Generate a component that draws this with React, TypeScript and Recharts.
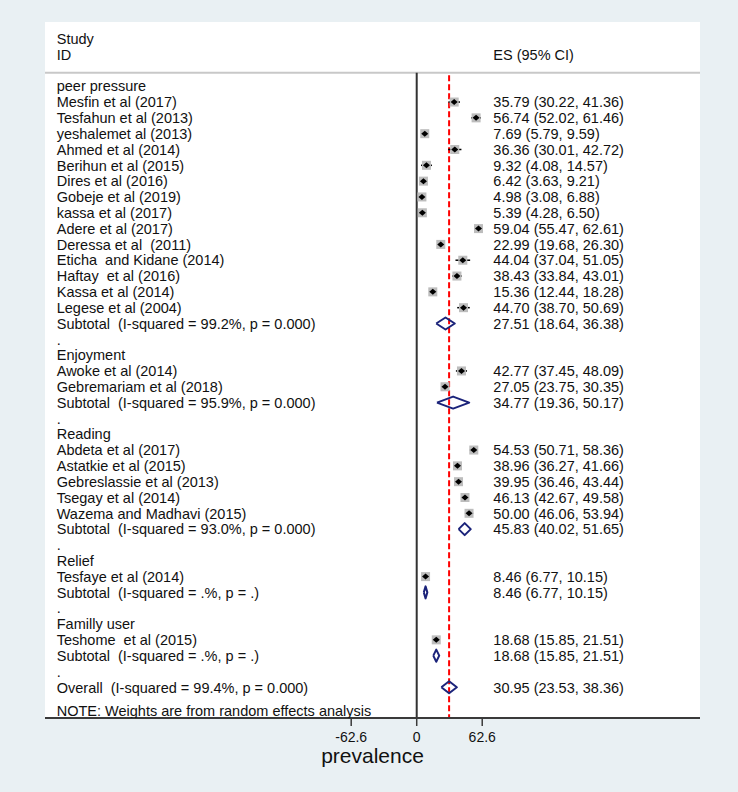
import { ScatterChart, Scatter, XAxis, YAxis, ReferenceLine, ErrorBar } from "recharts";

// [label, ES, lower CI, upper CI]
type Study = [string, number, number, number];

const peerPressure: Study[] = [
  ["Mesfin et al (2017)", 35.79, 30.22, 41.36],
  ["Tesfahun et al (2013)", 56.74, 52.02, 61.46],
  ["yeshalemet al (2013)", 7.69, 5.79, 9.59],
  ["Ahmed et al (2014)", 36.36, 30.01, 42.72],
  ["Berihun et al (2015)", 9.32, 4.08, 14.57],
  ["Dires et al (2016)", 6.42, 3.63, 9.21],
  ["Gobeje et al (2019)", 4.98, 3.08, 6.88],
  ["kassa et al (2017)", 5.39, 4.28, 6.5],
  ["Adere et al (2017)", 59.04, 55.47, 62.61],
  ["Deressa et al  (2011)", 22.99, 19.68, 26.3],
  ["Eticha  and Kidane (2014)", 44.04, 37.04, 51.05],
  ["Haftay  et al (2016)", 38.43, 33.84, 43.01],
  ["Kassa et al (2014)", 15.36, 12.44, 18.28],
  ["Legese et al (2004)", 44.7, 38.7, 50.69],
];

const enjoyment: Study[] = [
  ["Awoke et al (2014)", 42.77, 37.45, 48.09],
  ["Gebremariam et al (2018)", 27.05, 23.75, 30.35],
];

const reading: Study[] = [
  ["Abdeta et al (2017)", 54.53, 50.71, 58.36],
  ["Astatkie et al (2015)", 38.96, 36.27, 41.66],
  ["Gebreslassie et al (2013)", 39.95, 36.46, 43.44],
  ["Tsegay et al (2014)", 46.13, 42.67, 49.58],
  ["Wazema and Madhavi (2015)", 50.0, 46.06, 53.94],
];

const relief: Study[] = [["Tesfaye et al (2014)", 8.46, 6.77, 10.15]];

const famillyUser: Study[] = [["Teshome  et al (2015)", 18.68, 15.85, 21.51]];

const groupNames = ["peer pressure", "Enjoyment", "Reading", "Relief", "Familly user"];
const groupStudies = [peerPressure, enjoyment, reading, relief, famillyUser];

const subtotals: Study[] = [
  ["Subtotal  (I-squared = 99.2%, p = 0.000)", 27.51, 18.64, 36.38],
  ["Subtotal  (I-squared = 95.9%, p = 0.000)", 34.77, 19.36, 50.17],
  ["Subtotal  (I-squared = 93.0%, p = 0.000)", 45.83, 40.02, 51.65],
  ["Subtotal  (I-squared = .%, p = .)", 8.46, 6.77, 10.15],
  ["Subtotal  (I-squared = .%, p = .)", 18.68, 15.85, 21.51],
];

const overall: Study = ["Overall  (I-squared = 99.4%, p = 0.000)", 30.95, 23.53, 38.36];

const headerLeft = ["Study", "ID"];
const headerRight = "ES (95% CI)";
const note = "NOTE: Weights are from random effects analysis";
const xTicks = [-62.6, 0, 62.6];
const axisTitle = "prevalence";

// layout (data units)
const X_DOMAIN: [number, number] = [-355.2, 270.7];
const Y_DOMAIN: [number, number] = [-4.06, 39.94];
const LABEL_X = -344;
const ES_X = 73.2;
const HEADER_Y = -0.85;
const DIAMOND_H = 0.38;

const FONT = '"Liberation Sans", Arial, sans-serif';
const NAVY = "#1b237a";

type TextRow = { x: number; y: number; text: string };
type Point = { x: number; y: number; err: [number, number] };

const fmt = (es: number, lo: number, hi: number) =>
  `${es.toFixed(2)} (${lo.toFixed(2)}, ${hi.toFixed(2)})`;

const labelRows: TextRow[] = [
  { x: LABEL_X, y: -3, text: headerLeft[0] },
  { x: LABEL_X, y: -2, text: headerLeft[1] },
];
const esRows: TextRow[] = [{ x: ES_X, y: -2, text: headerRight }];
const studyPoints: Point[] = [];
const diamonds: { x: number; y: number }[][] = [];

const addDiamond = (es: number, lo: number, hi: number, y: number) => {
  diamonds.push([
    { x: lo, y },
    { x: es, y: y - DIAMOND_H },
    { x: hi, y },
    { x: es, y: y + DIAMOND_H },
    { x: lo, y },
  ]);
};

let row = 0;
groupNames.forEach((name, gi) => {
  labelRows.push({ x: LABEL_X, y: row++, text: name });
  groupStudies[gi].forEach(([label, es, lo, hi]) => {
    labelRows.push({ x: LABEL_X, y: row, text: label });
    esRows.push({ x: ES_X, y: row, text: fmt(es, lo, hi) });
    studyPoints.push({ x: es, y: row, err: [es - lo, hi - es] });
    row++;
  });
  const [sLabel, ses, slo, shi] = subtotals[gi];
  labelRows.push({ x: LABEL_X, y: row, text: sLabel });
  esRows.push({ x: ES_X, y: row, text: fmt(ses, slo, shi) });
  addDiamond(ses, slo, shi, row);
  row++;
  labelRows.push({ x: LABEL_X, y: row++, text: "." });
});
labelRows.push({ x: LABEL_X, y: row, text: overall[0] });
esRows.push({ x: ES_X, y: row, text: fmt(overall[1], overall[2], overall[3]) });
addDiamond(overall[1], overall[2], overall[3], row);
labelRows.push({ x: LABEL_X, y: row + 1.5, text: note });

const TextShape = (p: any) => (
  <text
    x={p.cx}
    y={p.cy}
    dy="0.36em"
    fontSize={14.5}
    fontFamily={FONT}
    fill="#111"
    style={{ whiteSpace: "pre" }}
  >
    {p.payload.text}
  </text>
);

const BoxShape = (p: any) => (
  <rect x={p.cx - 4.5} y={p.cy - 4.5} width={9} height={9} fill="#bdbdbd" />
);

const PointShape = (p: any) => (
  <polygon
    points={`${p.cx - 3.5},${p.cy} ${p.cx},${p.cy - 3} ${p.cx + 3.5},${p.cy} ${p.cx},${p.cy + 3}`}
    fill="#000"
  />
);

const NoShape = () => <g />;

export default function App() {
  return (
    <div
      style={{
        position: "absolute",
        left: 0,
        top: 0,
        width: 738,
        height: 792,
        background: "#e9f0f3",
      }}
    >
      <div
        style={{ position: "absolute", left: 45, top: 22, width: 655, height: 696, background: "#fff" }}
      />
      <div style={{ position: "absolute", left: 0, top: 0 }}>
        <ScatterChart width={738} height={792} margin={{ top: 22, left: 45, right: 38, bottom: 0 }}>
          <XAxis
            type="number"
            dataKey="x"
            domain={X_DOMAIN}
            allowDataOverflow
            ticks={xTicks}
            interval={0}
            height={74}
            tickSize={8}
            tickMargin={6}
            tickFormatter={(v) => String(v)}
            axisLine={{ stroke: "#3a3a3a", strokeWidth: 2 }}
            tickLine={{ stroke: "#3a3a3a", strokeWidth: 1.5 }}
            tick={{ fontSize: 14, fill: "#111", fontFamily: FONT }}
            label={{
              value: axisTitle,
              position: "insideBottom",
              offset: 29,
              fontSize: 21,
              fill: "#111",
              fontFamily: FONT,
            }}
          />
          <YAxis type="number" dataKey="y" domain={Y_DOMAIN} allowDataOverflow reversed hide />
          <ReferenceLine
            segment={[
              { x: X_DOMAIN[0], y: HEADER_Y },
              { x: X_DOMAIN[1], y: HEADER_Y },
            ]}
            stroke="#c8c8c8"
            strokeWidth={2}
          />
          <ReferenceLine
            segment={[
              { x: 0, y: HEADER_Y },
              { x: 0, y: Y_DOMAIN[1] },
            ]}
            stroke="#333"
            strokeWidth={2}
          />
          <ReferenceLine
            segment={[
              { x: overall[1], y: HEADER_Y + 0.15 },
              { x: overall[1], y: Y_DOMAIN[1] },
            ]}
            stroke="#ff0000"
            strokeWidth={2}
            strokeDasharray="6 3"
          />
          <Scatter data={studyPoints} shape={BoxShape} isAnimationActive={false} />
          <Scatter data={studyPoints} shape={PointShape} isAnimationActive={false}>
            <ErrorBar dataKey="err" direction="x" width={0} stroke="#000" strokeWidth={1.5} />
          </Scatter>
          {diamonds.map((d, i) => (
            <Scatter
              key={i}
              data={d}
              shape={NoShape}
              line={{ stroke: NAVY, strokeWidth: 2, strokeLinejoin: "round" }}
              fill="none"
              isAnimationActive={false}
            />
          ))}
          <Scatter data={labelRows} shape={TextShape} isAnimationActive={false} />
          <Scatter data={esRows} shape={TextShape} isAnimationActive={false} />
        </ScatterChart>
      </div>
    </div>
  );
}
